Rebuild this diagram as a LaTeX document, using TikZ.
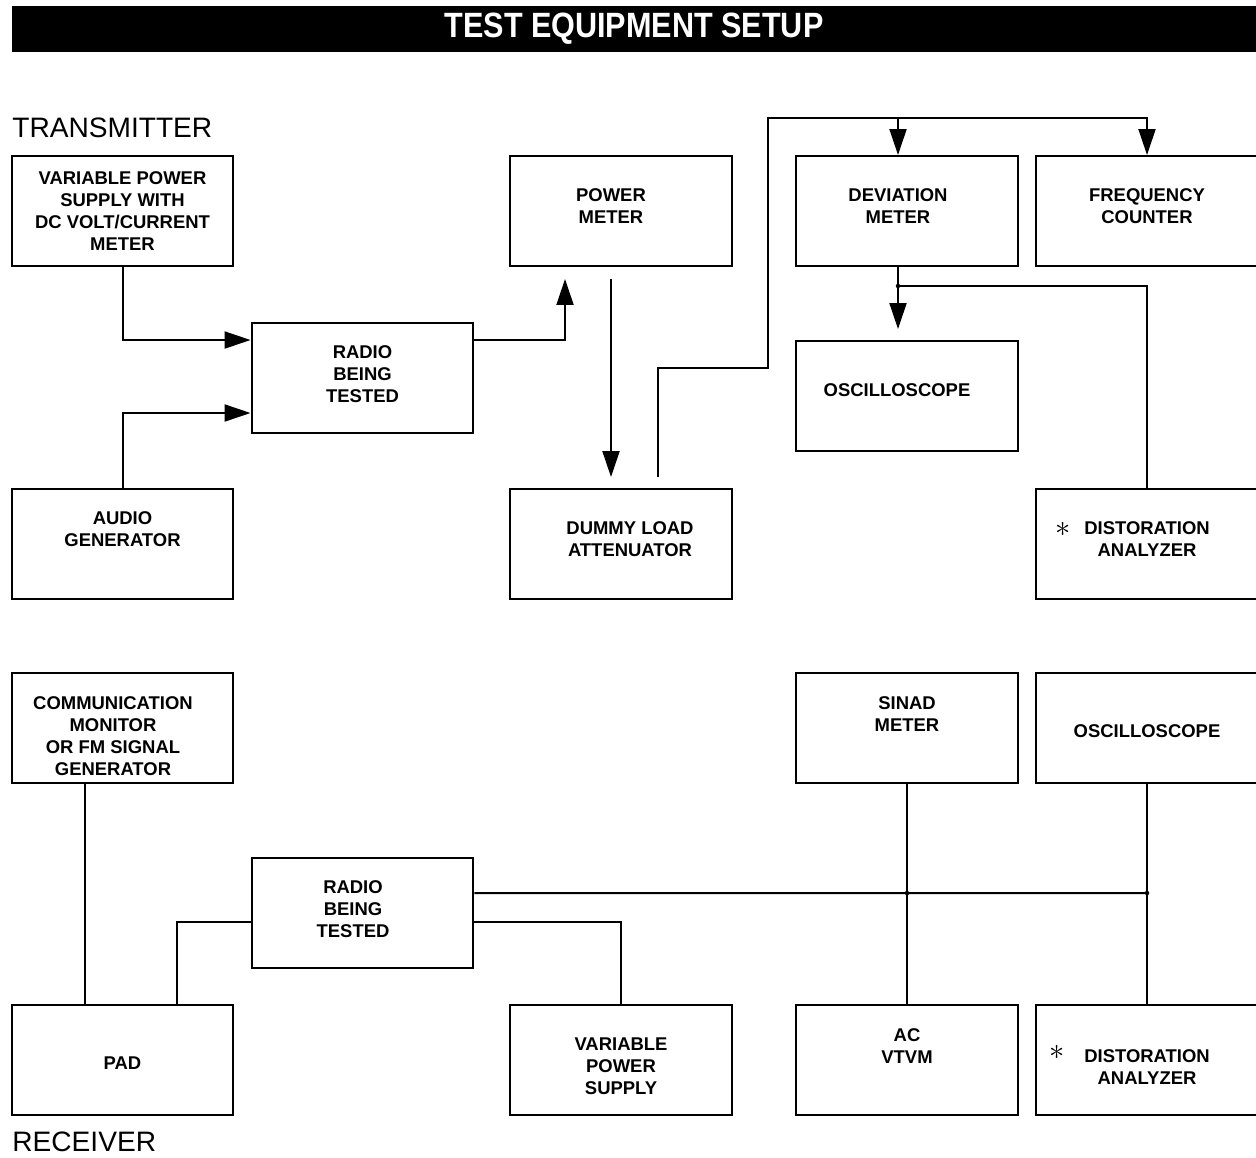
\documentclass[tikz,border=0pt]{standalone}
\usepackage{fontspec}
\setmainfont{Liberation Sans}
\newfontfamily\titlefont[FakeStretch=0.87]{Liberation Sans}
\usetikzlibrary{arrows.meta}

\newcommand{\bigast}{{\fontsize{17}{17}\selectfont$\ast$}}

\tikzset{
  box/.style={draw, line width=0.04cm, minimum width=4.44cm, minimum height=2.2cm, inner sep=0pt},
  txt/.style={align=center, inner sep=0pt, font=\bfseries\fontsize{10.5}{12.5}\selectfont},
  wire/.style={line width=0.04cm},
  arr/.style={wire, -{Triangle[length=0.52cm, width=0.34cm]}},
  heading/.style={anchor=west, inner sep=0pt, font=\fontsize{16}{18}\selectfont},
  dot/.style={circle, fill, inner sep=0pt, minimum size=0.09cm}
}

\begin{document}
\begin{tikzpicture}[x=0.02cm, y=-0.02cm]
\useasboundingbox (0,0) rectangle (1256,1157);

% title bar
\node[fill=black, text=white, minimum width=24.88cm, minimum height=0.92cm, inner sep=0pt,
      font=\titlefont\bfseries\fontsize{20}{22}\selectfont] (title) at (634,29) {TEST EQUIPMENT SETUP};

\node[heading] (tx) at (12,128) {TRANSMITTER};
\node[heading] (rx) at (12,1142) {RECEIVER};

% transmitter
\node[box, label={[txt]center:{VARIABLE POWER\\SUPPLY WITH\\DC VOLT/CURRENT\\METER}}] (vps) at (122.5,211) {};
\node[box, label={[txt, yshift=0.07cm]center:{RADIO\\BEING\\TESTED}}] (radT) at (362.5,378) {};
\node[box, label={[txt, xshift=-0.2cm, yshift=0.1cm]center:{POWER\\METER}}] (pm) at (621,211) {};
\node[box, label={[txt, xshift=-0.18cm, yshift=0.1cm]center:{DEVIATION\\METER}}] (dev) at (907,211) {};
\node[box, label={[txt, yshift=0.1cm]center:{FREQUENCY\\COUNTER}}] (frq) at (1147,211) {};
\node[box, label={[txt, xshift=-0.2cm, yshift=0.12cm]center:{OSCILLOSCOPE}}] (oscT) at (907,396) {};
\node[box, label={[txt, yshift=0.3cm]center:{AUDIO\\GENERATOR}}] (aud) at (122.5,544) {};
\node[box, label={[txt, xshift=0.18cm, yshift=0.1cm]center:{DUMMY LOAD\\ATTENUATOR}}] (dum) at (621,544) {};
\node[box, label={[txt, yshift=0.1cm]center:{\llap{\raisebox{-1pt}{\bigast}\hspace{8pt}}DISTORATION\\ANALYZER}}] (disT) at (1147,544) {};

% receiver
\node[box, label={[txt, xshift=-0.19cm, yshift=-0.16cm]center:{COMMUNICATION\\MONITOR\\OR FM SIGNAL\\GENERATOR}}] (com) at (122.5,728) {};
\node[box, label={[txt, yshift=0.28cm]center:{SINAD\\METER}}] (sin) at (907,728) {};
\node[box, label={[txt, yshift=-0.06cm]center:{OSCILLOSCOPE}}] (osR) at (1147,728) {};
\node[box, label={[txt, xshift=-0.19cm, yshift=0.08cm]center:{RADIO\\BEING\\TESTED}}] (radR) at (362.5,913) {};
\node[box, label={[txt, yshift=-0.06cm]center:{PAD}}] (pad) at (122.5,1060) {};
\node[box, label={[txt, yshift=-0.12cm]center:{VARIABLE\\POWER\\SUPPLY}}] (vpsR) at (621,1060) {};
\node[box, label={[txt, yshift=0.28cm]center:{AC\\VTVM}}] (vtvm) at (907,1060) {};
\node[box, label={[txt, yshift=-0.1cm]center:{\llap{\raisebox{2pt}{\bigast}\hspace{11pt}}DISTORATION\\ANALYZER}}] (disR) at (1147,1060) {};

% transmitter wiring
\draw[arr] (vps.south) |- ([yshift=0.76cm]radT.west);
\draw[arr] (aud.north) |- ([yshift=-0.7cm]radT.west);
\draw[arr] ([yshift=0.76cm]radT.east) -| ([xshift=-1.12cm, yshift=-0.24cm]pm.south);
\draw[arr] ([xshift=-0.2cm, yshift=-0.24cm]pm.south) -- ([xshift=-0.2cm, yshift=0.22cm]dum.north);
\coordinate (bus) at (768,118);
\draw[arr] ([xshift=0.74cm, yshift=0.22cm]dum.north) |- (bus |- 0,368) -- (bus) -| (frq.north);
\draw[arr] ([xshift=-0.18cm]dev.north |- bus) -- ([xshift=-0.18cm]dev.north);
\draw[arr] ([xshift=-0.18cm]dev.south) -- ([xshift=-0.18cm, yshift=0.22cm]oscT.north);
\coordinate (j1) at ([xshift=-0.18cm, yshift=-0.38cm]dev.south);
\draw[wire] (j1) -| (disT.north);
\node[dot] at (j1) {};

% receiver wiring
\draw[wire] ([xshift=-0.75cm]com.south) -- ([xshift=-0.75cm]pad.north);
\draw[wire] ([xshift=1.09cm]pad.north) |- ([yshift=-0.18cm]radR.west);
\coordinate (j2) at (907,893);
\coordinate (j3) at (1147,893);
\draw[wire] ([yshift=0.4cm]radR.east) -- (j3);
\draw[wire] (sin.south) -- (vtvm.north);
\draw[wire] (osR.south) -- (disR.north);
\node[dot] at (j2) {};
\node[dot] at (j3) {};
\draw[wire] ([yshift=-0.18cm]radR.east) -| (vpsR.north);
\end{tikzpicture}
\end{document}
